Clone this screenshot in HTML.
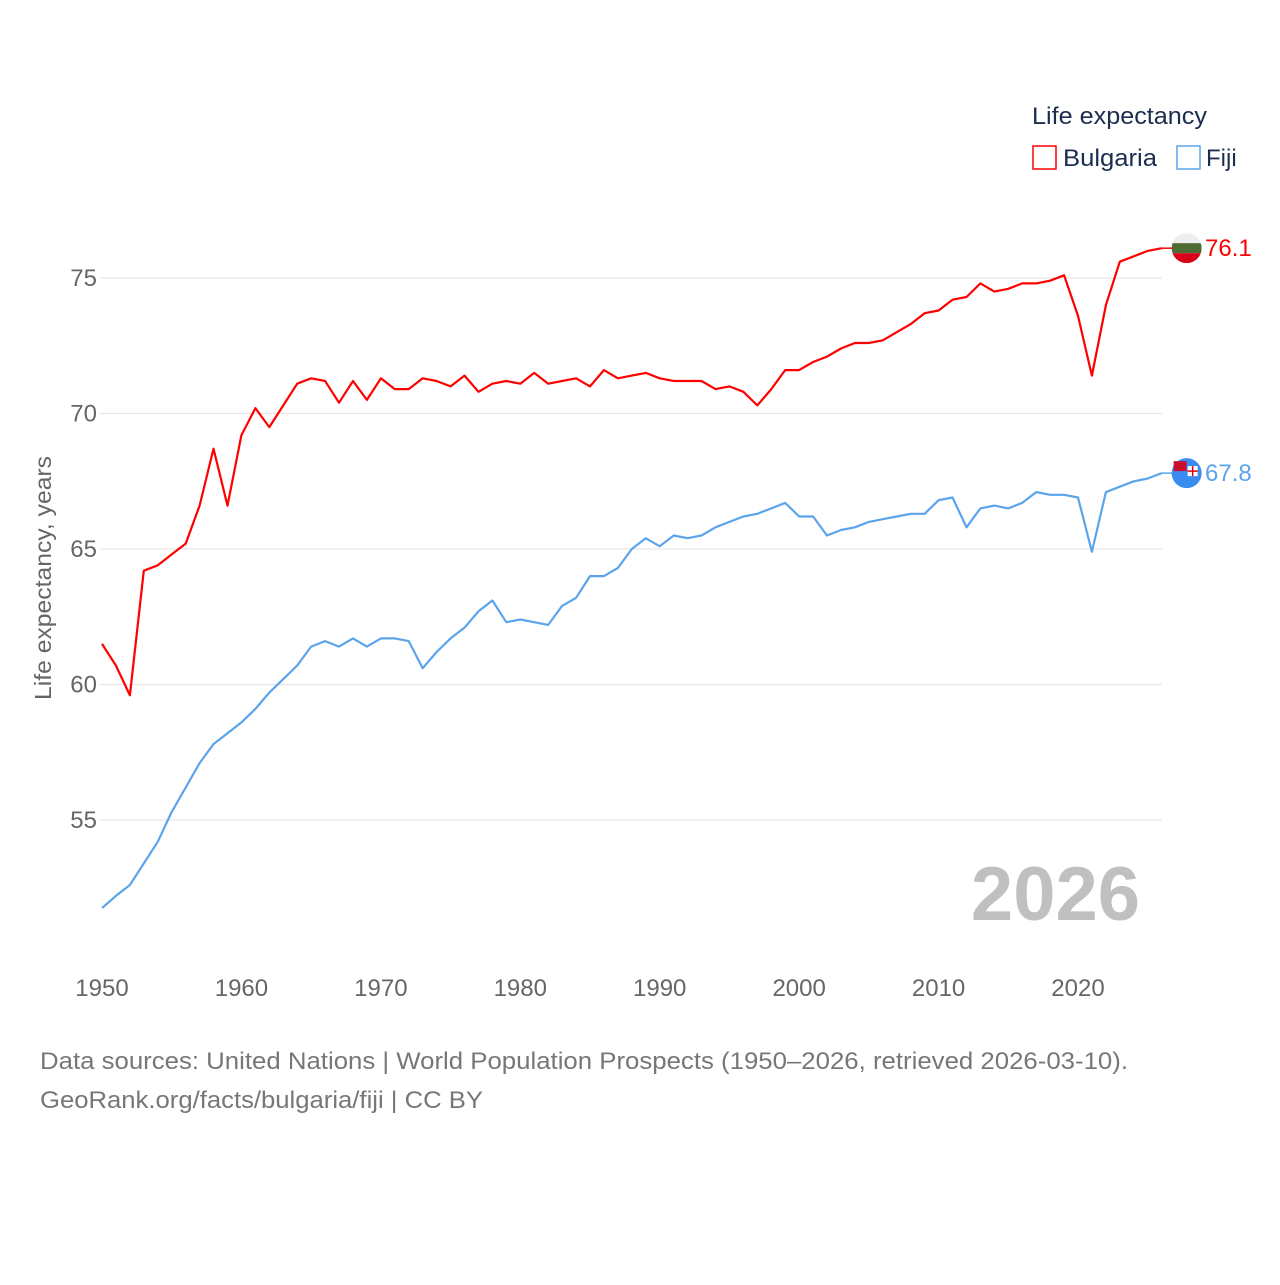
<!DOCTYPE html>
<html><head><meta charset="utf-8"><style>
html,body{margin:0;padding:0;background:#fff;}
body{width:1280px;height:1280px;overflow:hidden;font-family:"Liberation Sans",sans-serif;}
</style></head><body>
<svg id="chart" width="1280" height="1280" xmlns="http://www.w3.org/2000/svg" font-family="Liberation Sans, sans-serif">
<g id="grid"></g>
<g id="yticks"></g>
<g id="xticks"></g>
<text transform="translate(51,578) rotate(-90)" text-anchor="middle" font-size="23" fill="#666" textLength="244" lengthAdjust="spacingAndGlyphs">Life expectancy, years</text>
<text x="1140" y="920" text-anchor="end" font-size="76" font-weight="bold" fill="#c0c0c0">2026</text>
<g id="series"></g>
<g>
<text x="1032" y="124" font-size="24" fill="#1c2d4f" textLength="175" lengthAdjust="spacingAndGlyphs">Life expectancy</text>
<rect x="1033" y="146" width="23" height="23" fill="none" stroke="#ff0000" stroke-width="1.5"/>
<text x="1063" y="166" font-size="24" fill="#1c2d4f" textLength="94" lengthAdjust="spacingAndGlyphs">Bulgaria</text>
<rect x="1177" y="146" width="23" height="23" fill="none" stroke="#5ba4ec" stroke-width="1.5"/>
<text x="1206" y="166" font-size="24" fill="#1c2d4f">Fiji</text>
</g>
<text x="40" y="1069" font-size="24" fill="#777" textLength="1088" lengthAdjust="spacingAndGlyphs">Data sources: United Nations | World Population Prospects (1950–2026, retrieved 2026-03-10).</text>
<text x="40" y="1108" font-size="24" fill="#777" textLength="443" lengthAdjust="spacingAndGlyphs">GeoRank.org/facts/bulgaria/fiji | CC BY</text>
</svg>
<script>
const years = [];
for (let y = 1950; y <= 2026; y++) years.push(y);
const bulgaria = [61.5,60.7,59.6,64.2,64.4,64.8,65.2,66.6,68.7,66.6,69.2,70.2,69.5,70.3,71.1,71.3,71.2,70.4,71.2,70.5,71.3,70.9,70.9,71.3,71.2,71.0,71.4,70.8,71.1,71.2,71.1,71.5,71.1,71.2,71.3,71.0,71.6,71.3,71.4,71.5,71.3,71.2,71.2,71.2,70.9,71.0,70.8,70.3,70.9,71.6,71.6,71.9,72.1,72.4,72.6,72.6,72.7,73.0,73.3,73.7,73.8,74.2,74.3,74.8,74.5,74.6,74.8,74.8,74.9,75.1,73.6,71.4,74.0,75.6,75.8,76.0,76.1];
const fiji = [51.75,52.2,52.6,53.4,54.2,55.3,56.2,57.1,57.8,58.2,58.6,59.1,59.7,60.2,60.7,61.4,61.6,61.4,61.7,61.4,61.7,61.7,61.6,60.6,61.2,61.7,62.1,62.7,63.1,62.3,62.4,62.3,62.2,62.9,63.2,64.0,64.0,64.3,65.0,65.4,65.1,65.5,65.4,65.5,65.8,66.0,66.2,66.3,66.5,66.7,66.2,66.2,65.5,65.7,65.8,66.0,66.1,66.2,66.3,66.3,66.8,66.9,65.8,66.5,66.6,66.5,66.7,67.1,67.0,67.0,66.9,64.9,67.1,67.3,67.5,67.6,67.8];
const yTicks = [55,60,65,70,75];
const xTicks = [1950,1960,1970,1980,1990,2000,2010,2020];
const NS = "http://www.w3.org/2000/svg";
function xs(y){return 102 + (y-1950)*(1078-102)/70;}
function ys(v){return 278 + (75-v)*(820-278)/20;}
function mk(tag, attrs, parent){const e=document.createElementNS(NS,tag);for(const k in attrs)e.setAttribute(k,attrs[k]);parent.appendChild(e);return e;}
const grid=document.getElementById('grid'), yt=document.getElementById('yticks'), xt=document.getElementById('xticks'), ser=document.getElementById('series');
yTicks.forEach(v=>{
  const l=mk('line',{x1:100,x2:1162,y1:ys(v),y2:ys(v),stroke:'#e6e6e6','stroke-width':1.3},grid);
  
  
  const t=mk('text',{x:97,y:ys(v)+8,'text-anchor':'end','font-size':24,fill:'#666'},yt);
  t.textContent=v;
  
  
});
xTicks.forEach(v=>{
  const t=mk('text',{x:xs(v),y:996,'text-anchor':'middle','font-size':24,fill:'#666'},xt);
  t.textContent=v;
  
  
});
function line(data,color,name){
  const d=data.map((v,i)=>(i?'L':'M')+xs(years[i]).toFixed(1)+','+ys(v).toFixed(1)).join('');
  const p=mk('path',{d:d,fill:'none',stroke:color,'stroke-width':2.2,'stroke-linejoin':'round'},ser);
  
  
  const last=data[data.length-1], lx=xs(years[years.length-1]), ly=ys(last);
  mk('line',{x1:lx,x2:lx+12,y1:ly,y2:ly,stroke:color,'stroke-width':1.5},ser);
  const t=mk('text',{x:1205,y:ly+8,'font-size':24,fill:color},ser);
  t.textContent=last.toFixed(1);
  
  
  return {lx:lx+25,ly:ly};
}
const b=line(bulgaria,'#ff0000','bulgaria');
const f=line(fiji,'#5ba4ec','fiji');
const g1=mk('g',{},ser);


mk('clipPath',{id:'cb'},g1);
mk('circle',{cx:b.lx,cy:b.ly,r:15},document.getElementById('cb'));
mk('rect',{x:b.lx-15,y:b.ly-15,width:30,height:10,fill:'#eeeeee','clip-path':'url(#cb)'},g1);
mk('rect',{x:b.lx-15,y:b.ly-5,width:30,height:10,fill:'#4d6b32','clip-path':'url(#cb)'},g1);
mk('rect',{x:b.lx-15,y:b.ly+5,width:30,height:10,fill:'#d9001a','clip-path':'url(#cb)'},g1);
const g2=mk('g',{},ser);


mk('circle',{cx:f.lx,cy:f.ly,r:15,fill:'#3a8cf0'},g2);
mk('rect',{x:f.lx-13,y:f.ly-12,width:13,height:10,fill:'#c8102e'},g2);
mk('rect',{x:f.lx+1,y:f.ly-7,width:10,height:10,fill:'#fff'},g2);
mk('line',{x1:f.lx+6,x2:f.lx+6,y1:f.ly-7,y2:f.ly+3,stroke:'#d00',"stroke-width":1.5},g2);
mk('line',{x1:f.lx+1,x2:f.lx+11,y1:f.ly-2,y2:f.ly-2,stroke:'#d00',"stroke-width":1.5},g2);
</script>
</body></html>
